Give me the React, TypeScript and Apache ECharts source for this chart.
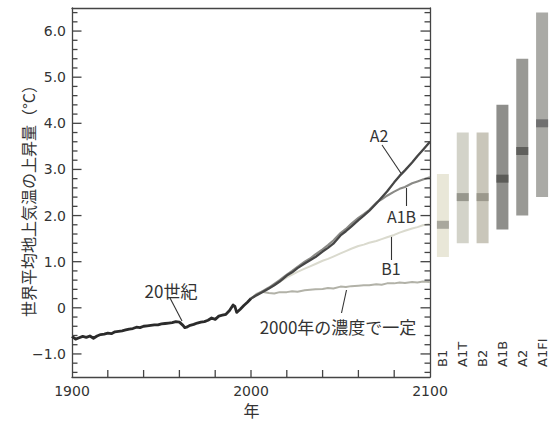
import React, { useEffect, useRef } from "react";
import * as echarts from "echarts";

// ---- data ----
const c20Years = [1900,1902,1904,1906,1908,1910,1912,1914,1916,1918,1920,1922,1924,1926,1928,1930,1932,1934,1936,1938,1940,1942,1944,1946,1948,1950,1952,1954,1956,1958,1960,1962,1963,1964,1966,1968,1970,1972,1974,1976,1978,1980,1982,1984,1986,1988,1990,1991,1992,1994,1996,1998,2000];
const c20Values = [-0.62,-0.68,-0.65,-0.62,-0.64,-0.61,-0.66,-0.61,-0.58,-0.57,-0.55,-0.56,-0.52,-0.51,-0.50,-0.48,-0.46,-0.45,-0.42,-0.43,-0.40,-0.39,-0.38,-0.37,-0.37,-0.35,-0.34,-0.33,-0.32,-0.30,-0.31,-0.38,-0.43,-0.42,-0.38,-0.36,-0.33,-0.31,-0.30,-0.27,-0.22,-0.25,-0.18,-0.16,-0.14,-0.06,0.06,0.03,-0.10,-0.03,0.05,0.12,0.20];

const futureYears = [2000,2003,2006,2010,2013,2016,2020,2023,2026,2030,2033,2036,2040,2043,2046,2050,2053,2056,2060,2063,2066,2070,2073,2076,2080,2083,2086,2090,2093,2096,2100];
const a2Values = [0.20,0.27,0.33,0.42,0.49,0.57,0.70,0.77,0.86,0.96,1.03,1.10,1.22,1.30,1.39,1.57,1.66,1.76,1.90,2.00,2.10,2.26,2.39,2.52,2.72,2.86,2.98,3.15,3.29,3.42,3.60];
const a1bValues = [0.20,0.28,0.35,0.44,0.52,0.60,0.72,0.80,0.89,1.00,1.07,1.16,1.27,1.36,1.46,1.62,1.71,1.82,1.95,2.03,2.12,2.28,2.35,2.43,2.52,2.58,2.62,2.70,2.74,2.78,2.83];
const b1Values = [0.20,0.27,0.34,0.42,0.49,0.56,0.66,0.72,0.78,0.85,0.90,0.95,1.02,1.06,1.11,1.18,1.23,1.28,1.34,1.37,1.41,1.45,1.49,1.53,1.58,1.63,1.67,1.72,1.75,1.79,1.82];
const constValues = [0.20,0.30,0.35,0.32,0.31,0.34,0.34,0.36,0.35,0.38,0.39,0.40,0.41,0.43,0.42,0.46,0.45,0.47,0.48,0.49,0.49,0.51,0.50,0.53,0.53,0.55,0.54,0.56,0.55,0.57,0.56];

const scenarios = ["B1", "A1T", "B2", "A1B", "A2", "A1FI"];
const bestEstimate = [1.8, 2.4, 2.4, 2.8, 3.4, 4.0];
const likelyLow = [1.1, 1.4, 1.4, 1.7, 2.0, 2.4];
const likelyHigh = [2.9, 3.8, 3.8, 4.4, 5.4, 6.4];

// axis tick values
const Y_MIN = -1.5, Y_MAX = 6.5, X_MIN = 1900, X_MAX = 2100;
const yMajorTicks = [-1, 0, 1, 2, 3, 4, 5, 6];
const yMinorStep = 0.2;
const xTickStep = 20;

// ---- styles ----
const bodyColors = ["#e9e7d8", "#d3d3c9", "#c9c6ba", "#8e8e8b", "#999995", "#aaaaa6"];
const bandColors = ["#a9a89d", "#97978d", "#9b988c", "#5b5b58", "#5f5f5c", "#707070"];
const NUM_FONT = "'DejaVu Sans', 'Noto Sans CJK JP', sans-serif";
const JP_FONT = "'Noto Sans CJK JP', sans-serif";
const INK = "#333333";
const AXIS = "#444444";

const zip = (xs: number[], ys: number[]) => xs.map((x, i) => [x, ys[i]]);

const fmtY = (v: number) => {
  if (Math.abs(v - Math.round(v)) > 1e-6) return "";
  const r = Math.round(v);
  if (r === 0) return "0";
  return r < 0 ? "\u2212" + Math.abs(r).toFixed(1) : r.toFixed(1);
};

// tick list: [x, y, kind, length]; kind 0 = left edge (points right), 1 = right edge (points left), 2 = bottom (points up)
const buildTicks = () => {
  const out: number[][] = [];
  for (let k = Math.ceil(Y_MIN / yMinorStep); k * yMinorStep < Y_MAX - 1e-9; k++) {
    const v = Math.round(k * yMinorStep * 10) / 10;
    if (v <= Y_MIN + 1e-9) continue;
    const isMajor = yMajorTicks.some((m) => Math.abs(m - v) < 1e-9);
    const len = isMajor ? 9.5 : 5.5;
    out.push([X_MIN, v, 0, len]);
    out.push([X_MAX, v, 1, len]);
  }
  for (let x = X_MIN + xTickStep; x < X_MAX; x += xTickStep) {
    out.push([x, Y_MIN, 2, 7]);
  }
  return out;
};

export default function App() {
  const ref = useRef<HTMLDivElement>(null);
  useEffect(() => {
    if (!ref.current) return;
    const chart = echarts.init(ref.current, null, { renderer: "svg" });
    const lineOnly = { show: true, onZero: false, lineStyle: { color: AXIS, width: 1.3 } };
    const noLine = { show: false, onZero: false };
    const yBase = { type: "value", min: Y_MIN, max: Y_MAX, gridIndex: 0, show: true, splitLine: { show: false } };
    const lineSeries = (name: string, data: number[][], color: string, width: number, z: number) => ({
      name,
      type: "line",
      xAxisIndex: 0,
      yAxisIndex: 0,
      data,
      showSymbol: false,
      symbol: "none",
      z,
      lineStyle: { color, width, join: "round" },
    });
    const option: any = {
      animation: false,
      backgroundColor: "#ffffff",
      grid: [
        { left: 72, right: 124, top: 8, bottom: 48 },
        { left: 433, right: 2, top: 8, bottom: 48 },
      ],
      xAxis: [
        {
          type: "value", gridIndex: 0, min: X_MIN, max: X_MAX, interval: 100, position: "bottom", show: true,
          axisLine: lineOnly,
          axisTick: { show: false },
          axisLabel: { color: INK, fontFamily: NUM_FONT, fontSize: 14, margin: 7, formatter: (v: number) => String(v) },
          splitLine: { show: false },
        },
        {
          type: "value", gridIndex: 0, min: X_MIN, max: X_MAX, position: "top", show: true,
          axisLine: lineOnly,
          axisTick: { show: false }, axisLabel: { show: false }, splitLine: { show: false },
        },
        {
          type: "category", gridIndex: 1, data: scenarios, position: "bottom",
          axisLine: noLine, axisTick: { show: false }, splitLine: { show: false },
          axisLabel: { inside: true, rotate: 90, margin: 10, color: INK, fontFamily: NUM_FONT, fontSize: 13 },
        },
      ],
      yAxis: [
        {
          ...yBase, position: "left", splitNumber: 8,
          axisLine: lineOnly,
          axisTick: { show: false },
          axisLabel: { color: INK, fontFamily: NUM_FONT, fontSize: 14, margin: 6, formatter: fmtY, showMinLabel: false, showMaxLabel: false },
        },
        {
          ...yBase, position: "right",
          axisLine: lineOnly,
          axisTick: { show: false },
          axisLabel: { show: false },
        },
        {
          type: "value", gridIndex: 1, min: Y_MIN, max: Y_MAX, show: false,
          splitLine: { show: false },
        },
      ],
      series: [
        lineSeries("const", zip(futureYears, constValues), "#b2b2a8", 2, 2),
        lineSeries("B1", zip(futureYears, b1Values), "#dadace", 2, 3),
        lineSeries("A1B", zip(futureYears, a1bValues), "#8a8a86", 2.1, 4),
        lineSeries("A2", zip(futureYears, a2Values), "#464646", 2.3, 5),
        lineSeries("20C", zip(c20Years, c20Values), "#2b2b2b", 2.8, 6),
        {
          name: "ticks",
          type: "custom",
          xAxisIndex: 0,
          yAxisIndex: 0,
          z: 10,
          silent: true,
          clip: false,
          data: buildTicks(),
          renderItem: (params: any, api: any) => {
            const p = api.coord([api.value(0), api.value(1)]);
            const kind = api.value(2);
            const len = api.value(3);
            const shape =
              kind === 0 ? { x1: p[0], y1: p[1], x2: p[0] + len, y2: p[1] }
              : kind === 1 ? { x1: p[0], y1: p[1], x2: p[0] - len, y2: p[1] }
              : { x1: p[0], y1: p[1], x2: p[0], y2: p[1] - len };
            return { type: "line", shape, style: { stroke: AXIS, lineWidth: 1.3 } };
          },
        },
        {
          type: "custom",
          xAxisIndex: 2,
          yAxisIndex: 2,
          data: scenarios.map((s, i) => [i, likelyLow[i], likelyHigh[i], bestEstimate[i]]),
          encode: { x: 0, y: [1, 2, 3] },
          renderItem: (params: any, api: any) => {
            const idx = api.value(0);
            const lo = api.coord([idx, api.value(1)]);
            const hi = api.coord([idx, api.value(2)]);
            const mid = api.coord([idx, api.value(3)]);
            const w = 12;
            return {
              type: "group",
              children: [
                { type: "rect", shape: { x: lo[0] - w / 2, y: hi[1], width: w, height: lo[1] - hi[1] }, style: { fill: bodyColors[idx] } },
                { type: "rect", shape: { x: lo[0] - w / 2, y: mid[1] - 4, width: w, height: 8 }, style: { fill: bandColors[idx] } },
              ],
            };
          },
        },
      ],
      graphic: [
        { type: "text", x: 28, y: 197, rotation: Math.PI / 2, style: { text: "世界平均地上気温の上昇量（°C）", fontFamily: JP_FONT, fontSize: 16, fill: INK, align: "center", verticalAlign: "middle" } },
        { type: "text", x: 251.5, y: 409.5, style: { text: "年", fontFamily: JP_FONT, fontSize: 16, fill: INK, align: "center", verticalAlign: "middle" } },
        { type: "text", x: 379, y: 135, style: { text: "A2", fontFamily: JP_FONT, fontSize: 16, fill: INK, align: "center", verticalAlign: "middle" } },
        { type: "line", shape: { x1: 382, y1: 145, x2: 401.5, y2: 174 }, style: { stroke: INK, lineWidth: 1.1 } },
        { type: "text", x: 401.5, y: 215.5, style: { text: "A1B", fontFamily: JP_FONT, fontSize: 16, fill: INK, align: "center", verticalAlign: "middle" } },
        { type: "line", shape: { x1: 406.5, y1: 188, x2: 406.5, y2: 206 }, style: { stroke: INK, lineWidth: 1.1 } },
        { type: "text", x: 391, y: 268, style: { text: "B1", fontFamily: JP_FONT, fontSize: 16, fill: INK, align: "center", verticalAlign: "middle" } },
        { type: "line", shape: { x1: 391.5, y1: 235, x2: 391.5, y2: 260 }, style: { stroke: INK, lineWidth: 1.1 } },
        { type: "text", x: 338, y: 326, style: { text: "2000年の濃度で一定", fontFamily: JP_FONT, fontSize: 17, fill: INK, align: "center", verticalAlign: "middle" } },
        { type: "line", shape: { x1: 346.5, y1: 290, x2: 341.5, y2: 313 }, style: { stroke: INK, lineWidth: 1.1 } },
        { type: "text", x: 171, y: 290.5, style: { text: "20世紀", fontFamily: JP_FONT, fontSize: 17, fill: INK, align: "center", verticalAlign: "middle" } },
        { type: "line", shape: { x1: 170, y1: 298, x2: 182, y2: 321 }, style: { stroke: INK, lineWidth: 1.1 } },
      ],
    };
    chart.setOption(option);
    return () => chart.dispose();
  }, []);
  return (
    <div
      ref={ref}
      style={{ position: "fixed", left: 0, top: 0, width: 554, height: 425, background: "#ffffff" }}
    />
  );
}
